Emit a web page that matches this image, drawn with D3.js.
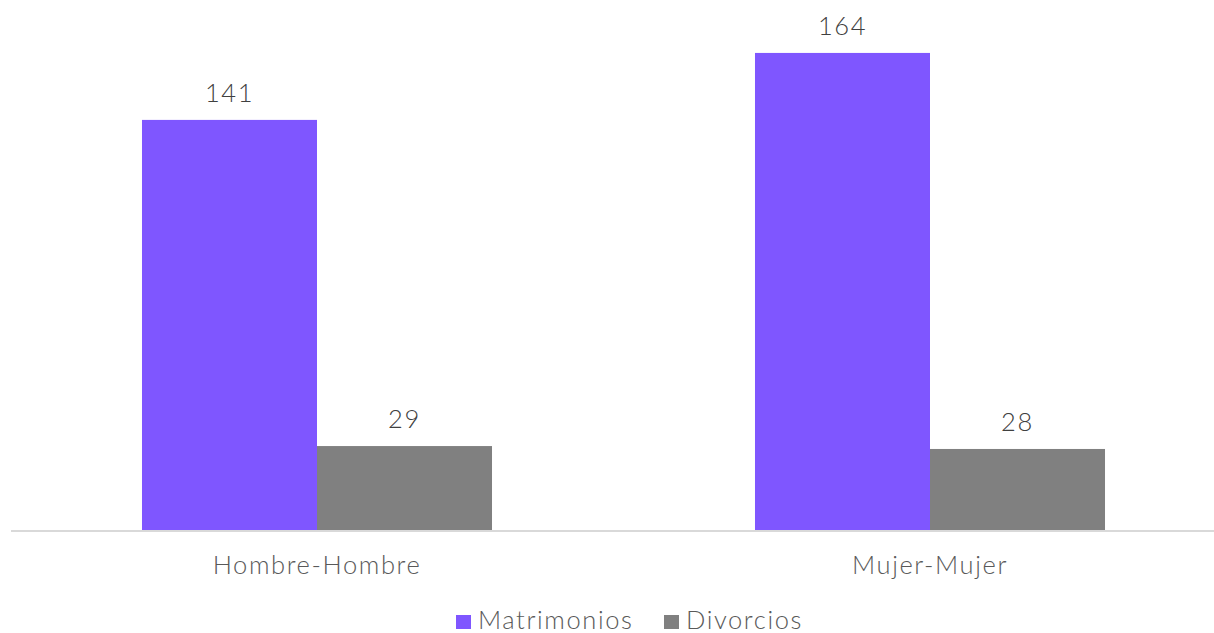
<!DOCTYPE html>
<html>
<head>
<meta charset="utf-8">
<script src="https://cdn.jsdelivr.net/npm/d3@7"></script>
<style>
  html, body { margin: 0; padding: 0; background: #ffffff; }
  svg { display: block; font-family: "Lato", "DejaVu Sans", sans-serif; font-weight: 300; }
</style>
</head>
<body>
<svg id="chart" width="1214" height="633"></svg>
<script>
const categories = ["Hombre-Hombre", "Mujer-Mujer"];
const seriesNames = ["Matrimonios", "Divorcios"];
const matrimonios = [141, 164];
const divorcios = [29, 28];
const seriesColors = ["#7F56FF", "#808080"];

const svg = d3.select("#chart");
const baseY = 530.5;
const FS = 25.5;
const LS = "1.6px";

const x0 = d3.scaleBand()
  .domain(categories)
  .range([10.5, 1236.5])
  .paddingInner(0.429)
  .paddingOuter(0.2145);

const x1 = d3.scaleBand()
  .domain(seriesNames)
  .range([0, x0.bandwidth()])
  .padding(0);

const y = d3.scaleLinear().domain([0, 180]).range([baseY, baseY - 180 * 2.912]);

const data = categories.map((c, i) => ({
  cat: c,
  vals: [
    { s: seriesNames[0], v: matrimonios[i], color: seriesColors[0] },
    { s: seriesNames[1], v: divorcios[i], color: seriesColors[1] }
  ]
}));

const groups = svg.append("g").selectAll("g")
  .data(data).join("g")
  .attr("transform", d => `translate(${x0(d.cat)},0)`);

groups.selectAll("rect")
  .data(d => d.vals).join("rect")
  .attr("x", d => x1(d.s))
  .attr("width", x1.bandwidth())
  .attr("y", d => y(d.v))
  .attr("height", d => y(0) - y(d.v))
  .attr("fill", d => d.color);

groups.selectAll("text.val")
  .data(d => d.vals).join("text")
  .attr("class", "val")
  .attr("x", d => x1(d.s) + x1.bandwidth() / 2)
  .attr("y", d => y(d.v) - 18)
  .attr("text-anchor", "middle")
  .attr("font-size", FS)
  .attr("letter-spacing", LS)
  .attr("fill", "#404040")
  .text(d => d.v);

// x axis
const xAxis = d3.axisBottom(x0).tickSize(0).tickPadding(0);
const ax = svg.append("g")
  .attr("transform", `translate(0,${baseY})`)
  .call(xAxis);
ax.select(".domain").attr("stroke", "#d9d9d9").attr("stroke-width", 2);
ax.selectAll(".tick text")
  .attr("font-size", FS)
  .attr("font-family", "Lato, 'DejaVu Sans', sans-serif")
  .attr("font-weight", 300)
  .attr("letter-spacing", LS)
  .attr("fill", "#595959")
  .attr("dy", null)
  .attr("y", 574 - baseY);

// legend
const legendItems = [
  { name: seriesNames[0], color: seriesColors[0], x: 456 },
  { name: seriesNames[1], color: seriesColors[1], x: 664 }
];
const lg = svg.append("g");
legendItems.forEach(it => {
  lg.append("rect").attr("x", it.x).attr("y", 615).attr("width", 15).attr("height", 14).attr("fill", it.color);
  lg.append("text").attr("x", it.x + 22).attr("y", 629)
    .attr("font-size", FS).attr("letter-spacing", LS).attr("fill", "#595959").text(it.name);
});
</script>
</body>
</html>
